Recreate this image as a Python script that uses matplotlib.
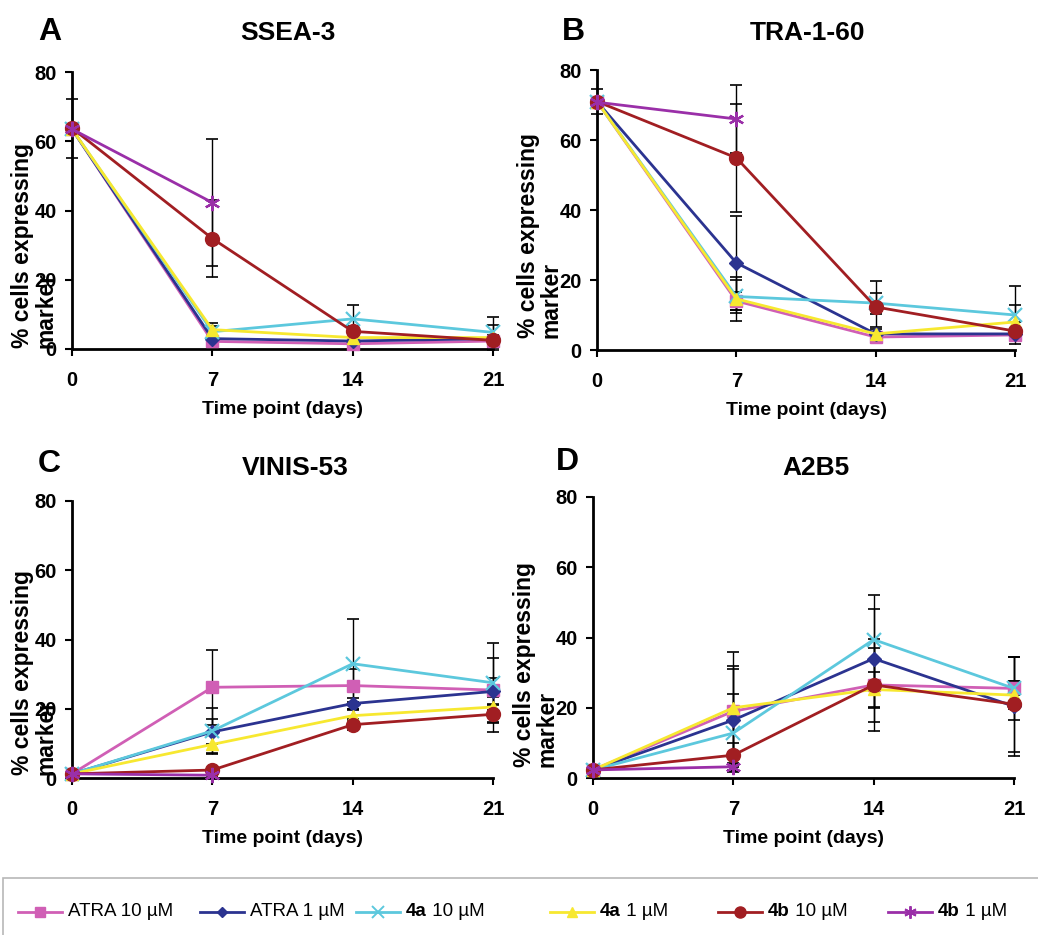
import numpy as np
import matplotlib
matplotlib.use('Agg')
import matplotlib.pyplot as plt
from matplotlib.lines import Line2D
from matplotlib.patches import Rectangle

plt.rcParams['font.family'] = ['Liberation Sans', 'DejaVu Sans']

nan = np.nan
days = [0, 7, 14, 21]

# legend labels: bold part, regular part
series_bold = ['', '', '4a', '4a', '4b', '4b']
series_rest = ['ATRA 10 µM', 'ATRA 1 µM', ' 10 µM', ' 1 µM', ' 10 µM', ' 1 µM']
colors = ['#D05FB5', '#2B3390', '#5CC8DD', '#F7E830', '#A11E22', '#9A2FA8']
markers = ['s', 'D', 'x', '^', 'o', (6, 2, 0)]
msizes = [9, 7, 10, 9, 10, 11]

# order of series: ATRA 10, ATRA 1, 4a 10, 4a 1, 4b 10, 4b 1
ssea3_vals = [[63.5, 2.2, 1.5, 2.3],
              [63.5, 3.0, 2.3, 3.0],
              [63.5, 5.0, 8.7, 4.8],
              [63.5, 5.6, 3.3, 3.3],
              [63.8, 31.9, 5.1, 2.5],
              [63.5, 42.3, nan, nan]]
ssea3_err = [[nan, 1.0, 0.8, 1.0],
             [nan, 1.0, 1.0, 1.0],
             [nan, 1.6, 4.0, 4.5],
             [nan, 2.0, 1.0, 3.5],
             [8.5, 11.0, 1.5, 1.0],
             [nan, 18.3, nan, nan]]

tra160_vals = [[71.0, 14.0, 3.7, 4.3],
               [71.0, 24.9, 4.6, 4.6],
               [71.0, 15.3, 13.4, 10.0],
               [71.0, 14.6, 4.6, 8.0],
               [71.0, 54.9, 12.3, 5.4],
               [70.8, 66.0, nan, nan]]
tra160_err = [[nan, 2.5, 1.0, 1.0],
              [nan, 13.5, 2.0, 1.5],
              [nan, 4.8, 3.0, 8.3],
              [nan, 6.2, 1.5, 5.0],
              [3.5, 15.5, 7.3, 2.5],
              [nan, 9.8, nan, nan]]

vinis53_vals = [[1.2, 26.2, 26.7, 25.4],
                [1.2, 13.3, 21.5, 25.0],
                [1.2, 13.6, 33.0, 27.5],
                [1.2, 9.7, 18.0, 20.5],
                [1.2, 2.3, 15.4, 18.4],
                [1.2, 0.8, nan, nan]]
vinis53_err = [[nan, 10.8, 4.8, 9.2],
               [nan, 3.6, 1.5, 4.0],
               [nan, 6.5, 13.0, 11.5],
               [nan, 2.7, 1.5, 1.0],
               [nan, 0.5, 1.5, 5.1],
               [nan, 0.5, nan, nan]]

a2b5_vals = [[2.3, 19.0, 26.5, 25.5],
             [2.3, 16.5, 34.0, 20.4],
             [2.3, 12.8, 39.4, 25.5],
             [2.3, 20.0, 25.2, 23.6],
             [2.3, 6.5, 26.5, 21.0],
             [2.3, 3.2, nan, nan]]
a2b5_err = [[nan, 13.0, 10.5, 9.0],
            [nan, 14.5, 14.0, 14.0],
            [nan, 11.0, 12.6, 2.0],
            [nan, 16.0, 5.0, 4.0],
            [nan, 3.5, 13.0, 13.5],
            [nan, 1.0, nan, nan]]

W, H = 1038, 935
fig = plt.figure(figsize=(W / 100, H / 100), dpi=100)


def px_axes(left, right, top, bottom):
    return fig.add_axes([left / W, 1 - bottom / H, (right - left) / W, (bottom - top) / H])


def draw_panel(ax, vals, errs, lab_x, lab_y):
    for i in range(6):
        ax.errorbar(days, vals[i], yerr=errs[i], fmt='none', ecolor='black',
                    elinewidth=1.0, capsize=4, capthick=1.2, zorder=2, clip_on=False)
    for i in range(6):
        mew = 1.6 if i in (2, 5) else 1
        ax.plot(days, vals[i], color=colors[i], marker=markers[i], ms=msizes[i],
                mew=mew, lw=2, zorder=3, clip_on=False)
    ax.set_xlim(0, 21)
    ax.set_ylim(0, 80)
    ax.set_xticks(days)
    ax.set_yticks([0, 20, 40, 60, 80])
    for s in ['top', 'right']:
        ax.spines[s].set_visible(False)
    for s in ['left', 'bottom']:
        ax.spines[s].set_linewidth(2)
    ax.tick_params(direction='out', length=5, width=1.5, labelsize=14.5)
    ax.tick_params(axis='x', pad=11)
    ax.tick_params(axis='y', pad=6)
    for lab in ax.get_xticklabels() + ax.get_yticklabels():
        lab.set_fontweight('bold')
    ax.set_xlabel('Time point (days)', fontsize=14, fontweight='bold', labelpad=8)
    # y label in two lines: first line as the axis label, "marker" beside it
    ax.set_ylabel('% cells expressing', fontsize=16.5, fontweight='bold')
    ax.yaxis.set_label_coords(lab_x - 0.055, lab_y)
    ax.text(lab_x, lab_y, 'marker', transform=ax.transAxes,
            rotation=90, rotation_mode='anchor', fontsize=16.5, fontweight='bold',
            ha='left', va='bottom')


axA = px_axes(72, 493, 72, 349)
axB = px_axes(597, 1015, 70, 350)
axC = px_axes(72, 493, 501, 778)
axD = px_axes(593, 1014, 497, 778)

for ax, v, e, lx, lyy in [(axA, ssea3_vals, ssea3_err, -0.035, 0.375),
                          (axB, tra160_vals, tra160_err, -0.082, 0.41),
                          (axC, vinis53_vals, vinis53_err, -0.035, 0.38),
                          (axD, a2b5_vals, a2b5_err, -0.081, 0.405)]:
    draw_panel(ax, v, e, lx, lyy)

# start "marker" at the same height as the first label line
renderer = fig.canvas.get_renderer()
for ax in [axA, axB, axC, axD]:
    bb = ax.yaxis.label.get_window_extent(renderer)
    start = ax.transAxes.inverted().transform((0, bb.y0))[1]
    ax.texts[-1].set_y(start)

# panel letters and titles
for x, y, t in [(38, 40, 'A'), (562, 40, 'B'), (38, 472, 'C'), (556, 470, 'D')]:
    fig.text(x / W, 1 - y / H, t, fontsize=23, fontweight='bold', va='baseline', ha='left')
for x, y, t in [(288, 40, 'SSEA-3'), (807, 40, 'TRA-1-60'), (295, 475, 'VINIS-53'),
                (816, 475, 'A2B5')]:
    fig.text(x / W, 1 - y / H, t, fontsize=19, fontweight='bold', va='baseline', ha='center')

# legend box along the bottom
fig.patches.append(Rectangle((3 / W, -0.02), 1.1, 0.02 + (H - 878) / H,
                             transform=fig.transFigure, fill=False,
                             edgecolor='#B8B8B8', lw=1.2))
hx = [40, 222, 378, 572, 740, 910]
ly = 1 - 912 / H
for i in range(6):
    fig.add_artist(Line2D([(hx[i] - 22) / W, (hx[i] + 22) / W], [ly, ly],
                          transform=fig.transFigure, color=colors[i], lw=2))
    fig.add_artist(Line2D([hx[i] / W], [ly], transform=fig.transFigure,
                          color=colors[i], marker=markers[i], ms=msizes[i] - 2,
                          mew=1.4 if i in (2, 5) else 1))
    tx = (hx[i] + 28) / W
    if series_bold[i]:
        tb = fig.text(tx, ly, series_bold[i], fontsize=13.5, fontweight='bold',
                      va='center', ha='left')
        tx = tb.get_window_extent(renderer).x1 / W
    fig.text(tx, ly, series_rest[i], fontsize=13.5, va='center', ha='left')

fig.savefig('out.png', dpi=100)
